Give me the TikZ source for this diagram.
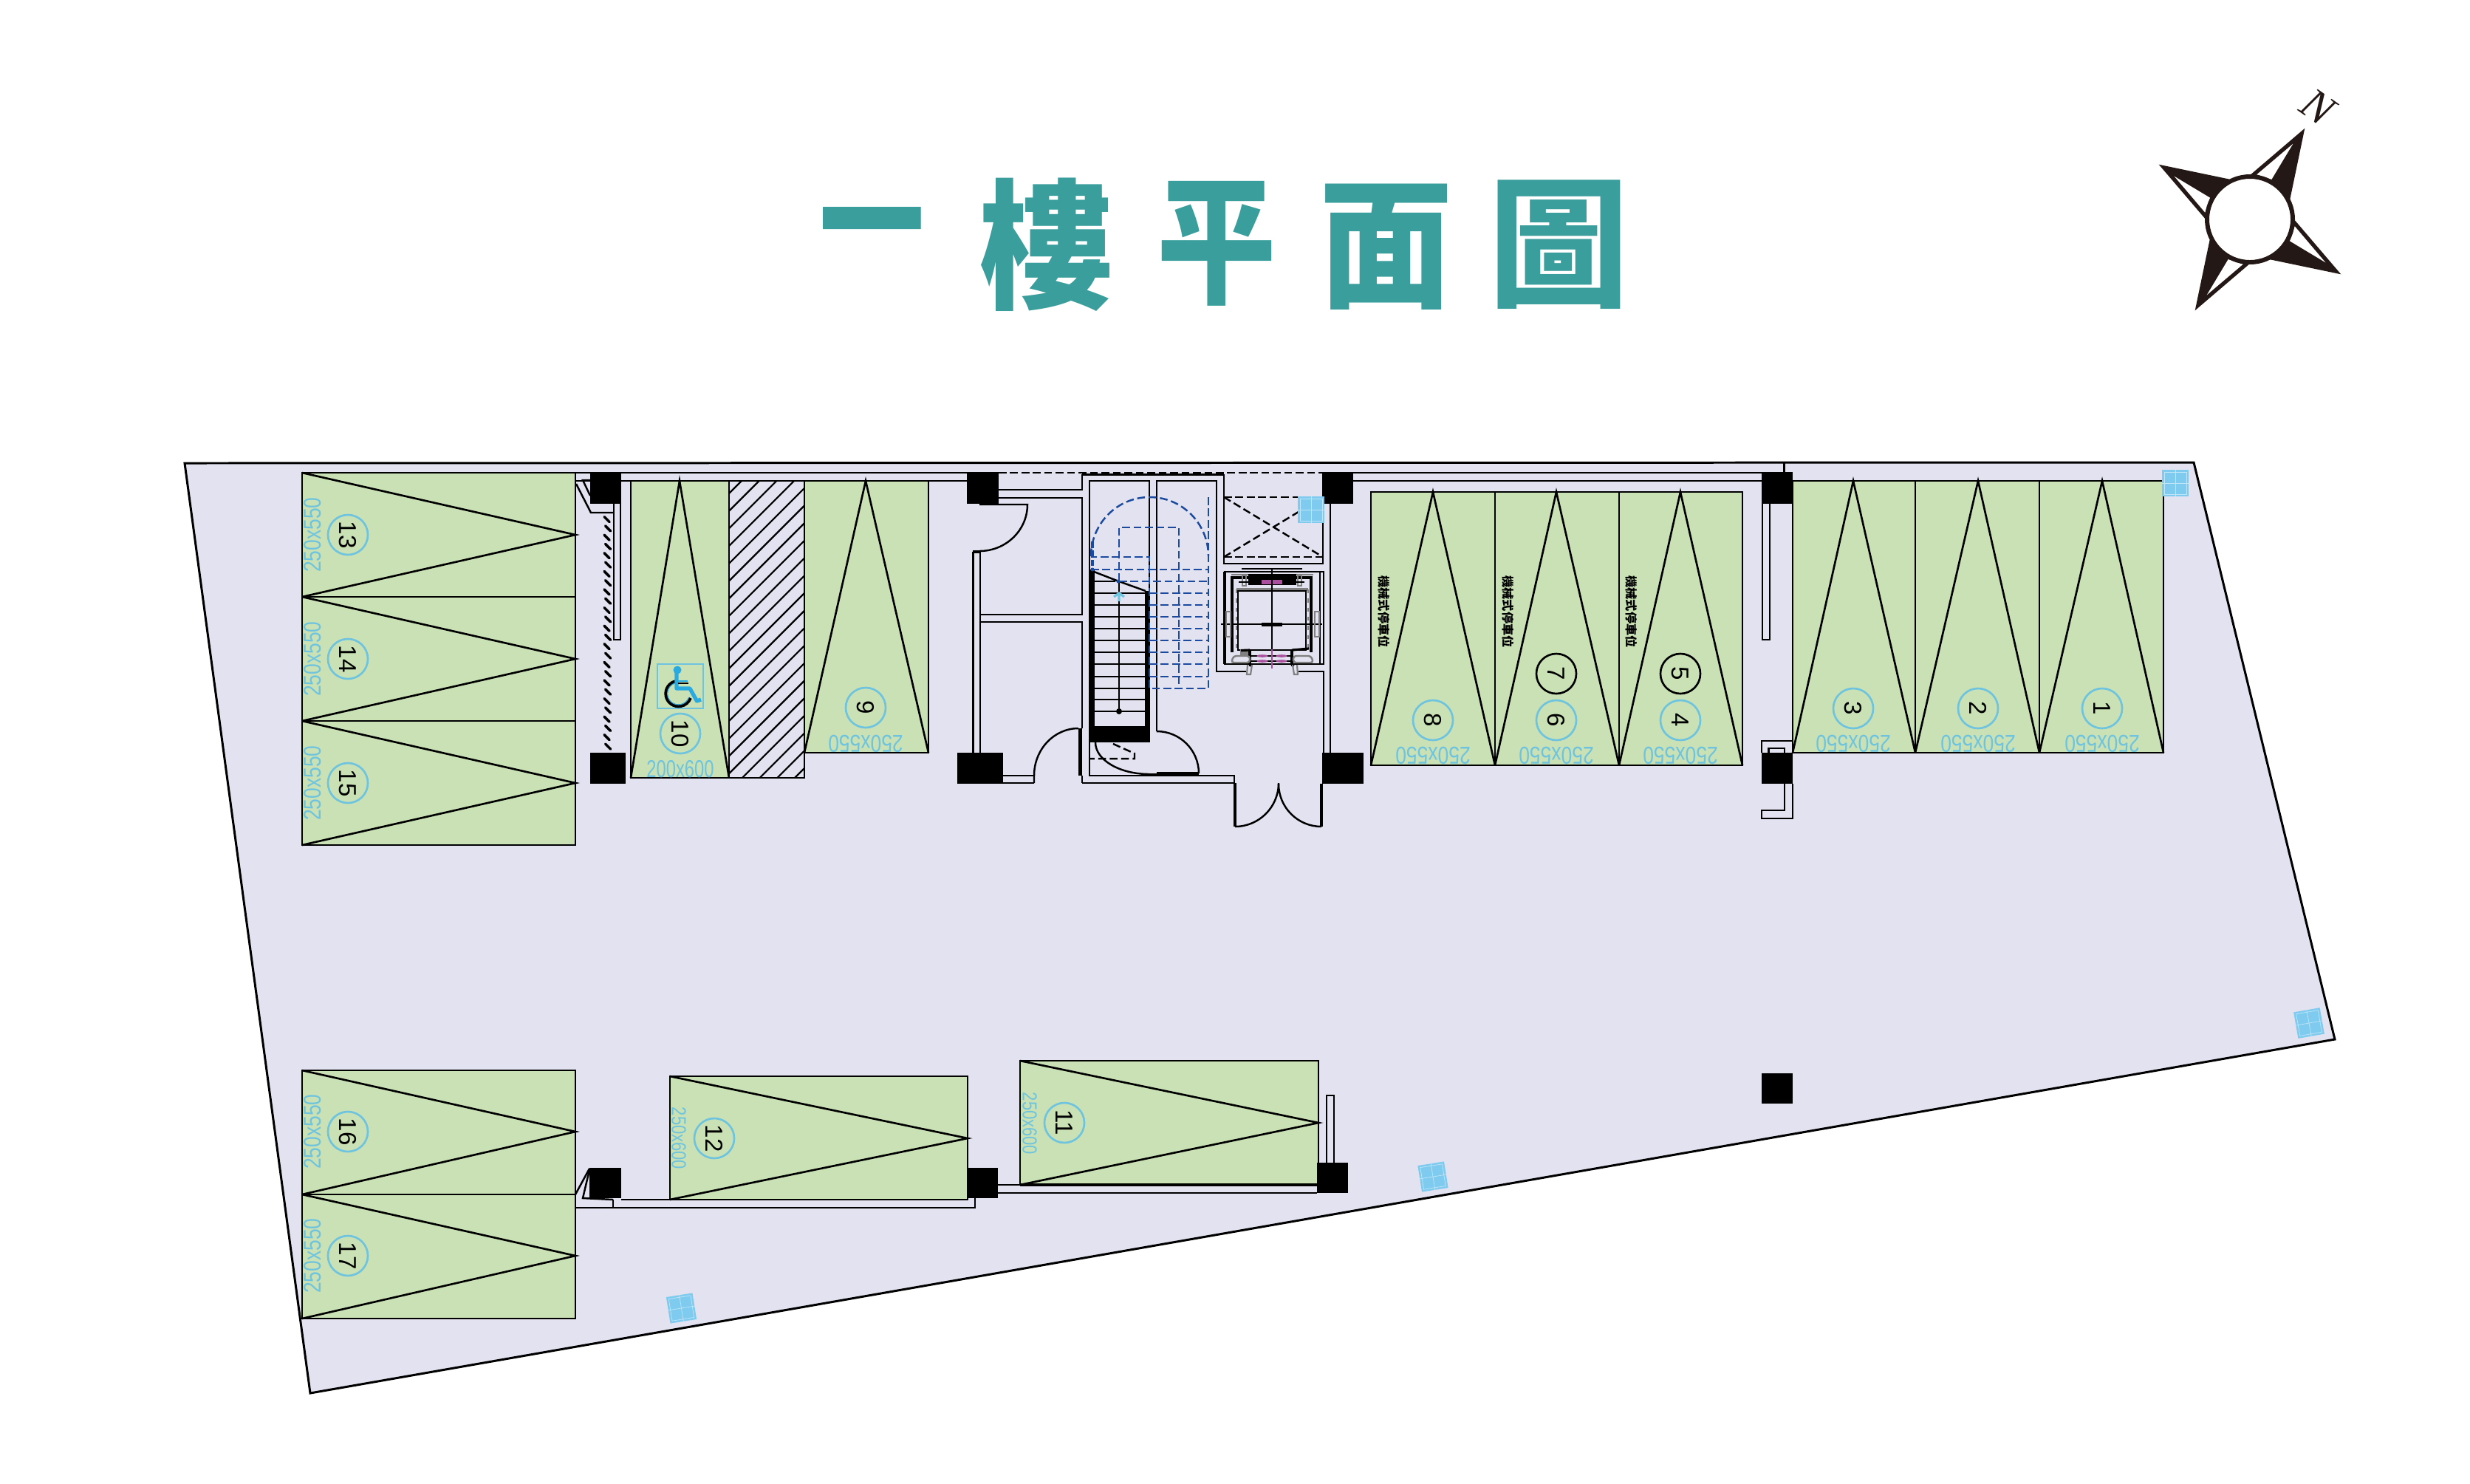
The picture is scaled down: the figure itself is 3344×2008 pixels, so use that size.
\documentclass[tikz,border=0pt]{standalone}
\usepackage{fontspec}
\setmainfont{Liberation Sans}
\newfontfamily\cjkfont{Noto Sans CJK TC}
\newfontfamily\serifit{Liberation Serif}
\definecolor{land}{HTML}{E2E2F0}
\definecolor{stall}{HTML}{C9E1B5}
\definecolor{cyanl}{HTML}{6EC4DF}
\definecolor{pinkl}{HTML}{A94F9E}
\definecolor{blued}{HTML}{1B4A9F}
\definecolor{panelb}{HTML}{7FCBEF}
\definecolor{teal}{HTML}{3A9E9C}
\definecolor{wheelb}{HTML}{29ABE2}
\definecolor{greyb}{HTML}{808080}
\definecolor{compass}{HTML}{231815}
\tikzset{
  wall/.style={draw=black,line width=.7pt,line join=miter},
  outline/.style={draw=black,line width=.85pt,fill=land,line join=miter},
  stallbox/.style={draw=black,line width=.75pt,fill=stall},
  vee/.style={draw=black,line width=.75pt},
  pillar/.style={fill=black,draw=none},
  dimtext/.style={text=cyanl,font=\fontsize{9.4}{10}\selectfont,inner sep=0pt},
  dimsmall/.style={text=cyanl,font=\fontsize{7.8}{9}\selectfont,inner sep=0pt},
  numring/.style={circle,draw=cyanl,line width=.75pt,minimum size=.54cm,inner sep=0pt,rotate=-90,font=\fontsize{9.4}{10}\selectfont},
  blackring/.style={numring,draw=black},
  bluedash/.style={draw=blued,line width=.7pt,dash pattern=on 3pt off 1.4pt},
  blackdash/.style={draw=black,line width=.7pt,dash pattern=on 3pt off 1.4pt},
  titlechar/.style={text=teal,inner sep=0pt,font=\fontsize{54}{54}\cjkfont\bfseries},
  cartext/.style={text=black,inner sep=0pt,rotate=-90,font=\fontsize{4.6}{5}\cjkfont\bfseries},
  greyline/.style={draw=greyb,line width=.62pt},
}
\newcommand{\panelat}[3]{%
  \begin{scope}[shift={(#1,#2)},rotate=#3]
    \fill[panelb] (-18,-18) rectangle (18,18);
    \draw[white,line width=.2pt,opacity=.5] (-15,-15) rectangle (15,15) (0,-18) -- (0,18) (-18,0) -- (18,0);
  \end{scope}}
\begin{document}
\begin{tikzpicture}[x=.01cm,y=-.01cm]
\useasboundingbox (0,0) rectangle (3344,2008);
\fill[white] (0,0) rectangle (3344,2008);

% title
\node[titlechar,xscale=.75] (t1) at (1181,325) {一};
\node[titlechar,xscale=.95] (t2) at (1417,331) {樓};
\node[titlechar,xscale=.85] (t3) at (1647,330) {平};
\node[titlechar,xscale=.95] (t4) at (1877,334) {面};
\node[titlechar] (t5) at (2110,331) {圖};

% compass
\foreach \a in {0,90,180,270}{
  \begin{scope}[shift={(3046,297)},rotate=\a]
    \fill[compass] (1,-60.7) -- (74.3,-123.3) -- (54.3,-27.3) -- cycle;
    \fill[white] (9.3,-60.7) -- (58.3,-102.3) -- (29.3,-54) -- cycle;
  \end{scope}}
\draw[compass,fill=white,line width=1.7pt] (3046,297) circle (58);
\node[text=compass,inner sep=0pt,rotate=-35,font=\fontsize{17}{17}\serifit\itshape] (north) at (3138,145) {N};

% site
\draw[outline] (250,627) -- (2970,626) -- (3161,1407) -- (420,1886) -- cycle;

% stalls: left block
\foreach \yA/\yB/\yM/\n in {640/808/724/13,808/976/892/14,976/1144/1060/15,1449/1617/1532/16,1617/1785/1700/17}{
  \draw[stallbox] (409,\yA) rectangle (779,\yB);
  \draw[vee] (409,\yA) -- (779,\yM) -- (409,\yB);
  \node[dimtext,rotate=90,xscale=.8] (d\n) at (423,\yM) {250x550};
  \node[numring] (n\n) at (471,\yM) {\n};
}
% 12
\draw[stallbox] (907,1457) rectangle (1310,1624);
\draw[vee] (907,1457) -- (1310,1541) -- (907,1624);
\node[dimsmall,rotate=-90,xscale=.8] (d12) at (919,1541) {250x600};
\node[numring] (n12) at (967,1541) {12};
% 11
\draw[stallbox] (1381,1436) rectangle (1785,1604);
\draw[vee] (1381,1436) -- (1785,1520) -- (1381,1604);
\node[dimsmall,rotate=-90,xscale=.8] (d11) at (1394,1521) {250x600};
\node[numring] (n11) at (1441,1520) {11};

% top walls
\draw[wall] (780,640) -- (2385,640);
\fill[land] (1353,639) rectangle (1789,641.5);
\draw[blackdash] (1352,640) -- (1790,640);
\draw[wall] (1465,642.5) -- (1657,642.5);
\draw[wall] (780,651) -- (1310,651) (1832,651) -- (2385,651);

% stalls 10, hatch, 9
\draw[stallbox] (854,651) rectangle (987,1053);
\draw[vee] (854,1053) -- (920,651) -- (987,1053);
\fill[land] (987,651) rectangle (1089,1053);
\begin{scope}
  \clip (987,651) rectangle (1089,1053);
  \foreach \k in {0,...,21}{
    \pgfmathsetmacro{\c}{1655+23.7*\k}
    \draw[black,line width=.62pt] ({\c-651},651) -- ({\c-1053},1053);
  }
\end{scope}
\draw[draw=black,line width=.75pt] (987,651) rectangle (1089,1053);
\draw[stallbox] (1089,651) rectangle (1257,1019);
\draw[vee] (1089,1019) -- (1172,651) -- (1257,1019);
\node[dimtext,rotate=180,xscale=.8] (d9) at (1172,1007) {250x550};
\node[numring] (n9) at (1172,958) {9};
\node[dimtext,xscale=.72] (d10) at (921,1041) {200x600};
\node[numring] (n10) at (921,993) {10};
% wheelchair
\draw[cyanl,line width=.75pt] (890,899) rectangle (952,959);
\draw[black,line width=1.3pt] (918.6,939) ++(-100:17) arc[start angle=-100,end angle=-340,radius=17];
\draw[wheelb,line width=.3pt] (918.6,939) ++(-100:15) arc[start angle=-100,end angle=-340,radius=15];
\fill[wheelb] (917,907) circle (5.5);
\draw[wheelb,line width=1.5pt,line join=round] (916,910) -- (916,932) -- (934,932) -- (943.5,949) -- (949,947);
\draw[black,line width=.35pt] (918,925) -- (932,925);
\draw[wheelb,line width=.7pt] (916,922) -- (931,922);

% stalls 8..4
\foreach \xA/\xB/\xM/\n/\tx in {1856/2024/1940/8/1874,2024/2192/2107/6/2042,2192/2359/2275/4/2209}{
  \draw[stallbox] (\xA,666) rectangle (\xB,1036);
  \draw[vee] (\xA,1036) -- (\xM,666) -- (\xB,1036);
  \node[dimtext,rotate=180,xscale=.8] (d\n) at (\xM,1023) {250x550};
  \node[numring] (n\n) at (\xM,975) {\n};
  \node[cartext] (c\n) at (\tx,828) {機械式停車位};
}
\node[blackring] (n7) at (2107,912) {7};
\node[blackring] (n5) at (2275,912) {5};

% stalls 3,2,1
\foreach \xA/\xB/\xM/\n in {2427/2593/2509/3,2593/2761/2678/2,2761/2929/2846/1}{
  \draw[stallbox] (\xA,651) rectangle (\xB,1019);
  \draw[vee] (\xA,1019) -- (\xM,651) -- (\xB,1019);
  \node[dimtext,rotate=180,xscale=.8] (d\n) at (\xM,1007) {250x550};
  \node[numring] (n\n) at (\xM,959) {\n};
}

% left wall details
\draw[wall] (780,655) -- (800,694) -- (830,694);
\draw[wall] (799,650) -- (789,650) -- (799,671);
\draw[wall] (831,682) -- (831,866) -- (840,866) -- (840,682);
\foreach \k in {0,...,25}{
  \draw[black,line width=1pt,line cap=round] ({818+mod(\k,2)*1.5},{703+12.3*\k-3.5}) -- ({825+mod(\k,2)*1.5},{703+12.3*\k+3.5});
}

% core walls
\draw[wall] (1352,663) -- (1465,663) -- (1465,642);
\draw[wall] (1352,674) -- (1465,674) -- (1465,832) -- (1327,832);
\draw[wall] (1327,842) -- (1465,842) -- (1465,986);
\draw[line width=1.3pt] (1462.5,986) -- (1462.5,1050);
\draw[wall] (1465,1050) -- (1465,1060);
\draw[wall] (1317.5,747) -- (1317.5,1019) (1327,746) -- (1327,1019);
\draw[line width=1pt] (1317,747) -- (1327,747);
% door 1
\draw[wall] (1326,683) -- (1391,683) arc[start angle=0,end angle=90,x radius=65,y radius=63];
% door 2
\draw[wall] (1400,1060) -- (1400,1050) arc[start angle=180,end angle=270,x radius=60,y radius=64];
\draw[wall] (1358,1050) -- (1400,1050) (1358,1060) -- (1400,1060);
% stair enclosure
\draw[wall] (1475,1005) -- (1475,651) -- (1556,651) -- (1556,983);
\draw[wall] (1566,990) -- (1566,651) -- (1647,651) -- (1647,909) -- (1687,909);
\draw[wall] (1758,909) -- (1792,909) -- (1792,1019);
\draw[wall] (1801,682) -- (1801,1019);
\draw[wall] (1657,642) -- (1657,763) -- (1791,763) -- (1791,642);
% door 3
\draw[wall] (1566,990) arc[start angle=270,end angle=360,radius=57];
\draw[line width=1.3pt] (1566,1047) -- (1623,1047);
\draw[wall] (1556,1048) -- (1566,1048);
\fill[black] (1475,983) rectangle (1557,1005);
\draw[wall] (1483,1005) arc[start angle=180,end angle=90,x radius=73,y radius=43];
\draw[blackdash] (1507,1007) -- (1536,1020) -- (1536,1027) -- (1475,1027);
\draw[wall] (1475,1005) -- (1475,1050) -- (1671,1050) -- (1671,1060) -- (1465,1060);
% entry doors
\draw[line width=1pt] (1672,1060) -- (1672,1119) (1789,1061) -- (1789,1119);
\draw[wall] (1672,1119) arc[start angle=90,end angle=0,radius=59];
\draw[wall] (1789,1119) arc[start angle=90,end angle=180,radius=58];

% stairs
\fill[black] (1476,772) rectangle (1482,983);
\fill[black] (1550,800) rectangle (1555,983);
\foreach \y in {803,819,835,851,867,883,899,916,932,947,963}{
  \draw[wall] (1482,\y) -- (1552,\y);
}
\draw[wall] (1482,787) -- (1510,787);
\draw[wall] (1476,772) -- (1512,786) -- (1551,800);
\draw[wall] (1515,786) -- (1515,963);
\fill[black] (1515,963) circle (4);
\draw[cyanl,line width=.9pt] (1515,814) -- (1515,803) (1508,808) -- (1515,803) -- (1522,808);
% blue dashed
\draw[bluedash] (1477,753) arc[start angle=180,end angle=360,x radius=79.5,y radius=80];
\draw[bluedash] (1636,673) -- (1636,932) -- (1556,932) -- (1556,754) -- (1477,754);
\draw[bluedash] (1515,787) -- (1515,714) -- (1596,714) -- (1596,932);
\draw[bluedash] (1477,771) -- (1636,771);
\draw[bluedash] (1515,787) -- (1636,787);
\foreach \y in {803,819,835,851,867,883,899,916}{
  \draw[bluedash] (1556,\y) -- (1636,\y);
}
\draw[blued,line width=1pt,dash pattern=on 2.5pt off 1pt] (1479,733) -- (1479,771);
\fill[blued] (1479,771) circle (2.5) (1514,787) circle (2.5);

% shaft
\draw[blackdash] (1657,673) -- (1791,673) (1657,754) -- (1791,754);
\draw[blackdash] (1657,673) -- (1791,754) (1657,754) -- (1791,673);

% elevator
\draw[draw=black,line width=.75pt] (1658,774) rectangle (1792,899);
\draw[black,line width=1pt] (1658,774) -- (1658,899);
\draw[black,line width=.4pt] (1787,774) -- (1787,899);
\draw[black,line width=.9pt] (1668,883) -- (1668,782) -- (1690,782) (1755,782) -- (1775,782) -- (1775,883);
\fill[black] (1690,777) rectangle (1755,792);
\fill[pinkl] (1708,785) rectangle (1736,791);
\draw[black,line width=.62pt] (1681,770) -- (1763,770);
\draw[greyline] (1667,778) -- (1690,778) (1755,778) -- (1778,778);
\draw[greyline] (1682,779) rectangle (1687,793) (1757,779) rectangle (1762,793);
\draw[black,line width=.4pt] (1677,788) -- (1690,788) (1755,788) -- (1766,788);
\draw[greyb,line width=.9pt] (1674,798) -- (1771,798);
\draw[greyb,line width=.5pt,dash pattern=on 1.5pt off 2pt] (1674,798) -- (1674,880) (1771,798) -- (1771,880);
\draw[black,line width=.5pt] (1676,800) rectangle (1768,880);
\draw[black,line width=.5pt] (1722,769) -- (1722,880) (1653,845) -- (1790,845);
\fill[black] (1708,842.5) rectangle (1736,847.5);
\draw[greyline] (1660,828) rectangle (1666,862) (1780,828) rectangle (1786,862);
\fill[greyb] (1679,879) rectangle (1692,887);
\draw[black,line width=.9pt] (1692,880) -- (1692,899) (1749,880) -- (1749,899);
\draw[black,line width=.9pt] (1692,880) -- (1680,880.5) (1749,880) -- (1772,878);
\draw[black,line width=.35pt] (1692,888) -- (1750,888) (1692,895) -- (1750,895);
\draw[greyb,line width=.7pt,rounded corners=1pt,fill=land] (1667,897) -- (1670,888) -- (1692,888) -- (1692,897) -- cycle;
\draw[greyb,line width=.7pt,rounded corners=1pt,fill=land] (1778,897) -- (1775,888) -- (1751,888) -- (1751,897) -- cycle;
\fill[pinkl] (1709,888) ellipse (7.5 and 1.8) (1735,888) ellipse (7.5 and 1.8) (1709,895) ellipse (7.5 and 1.8) (1735,895) ellipse (7.5 and 1.8);
\draw[pinkl,line width=.5pt] (1722,879) -- (1722,905);
\fill[black] (1693,900) circle (2.5) (1750,900) circle (2.5);
\draw[greyb,line width=.62pt] (1689,900) -- (1688,913) -- (1693,913) -- (1695,900) (1750,900) -- (1752,913) -- (1757,913) -- (1756,900);

% pillars
\fill[pillar] (799,640) rectangle (841,682);
\fill[pillar] (799,1019) rectangle (847,1061);
\fill[pillar] (1309,640) rectangle (1352,682);
\fill[pillar] (1296,1019) rectangle (1358,1061);
\fill[pillar] (1790,640) rectangle (1832,682);
\fill[pillar] (1790,1019) rectangle (1846,1061);
\fill[pillar] (2385,639) rectangle (2427,682);
\fill[pillar] (2385,1019) rectangle (2427,1061);
\fill[pillar] (798,1581) rectangle (841,1622);
\fill[pillar] (1310,1581) rectangle (1351,1622);
\fill[pillar] (1783,1574) rectangle (1825,1615);
\fill[pillar] (2385,1453) rectangle (2427,1494);

% right-side wall details
\draw[wall] (2386,682) -- (2386,866) -- (2396,866) -- (2396,682);
\draw[wall] (2415.5,626) -- (2415.5,639);
\draw[wall] (2385,1019) -- (2385,1003) -- (2427,1003) (2394.5,1019) -- (2394.5,1013) -- (2416,1013) -- (2416,1019);
\draw[wall] (2416,1061) -- (2416,1097) -- (2385,1097) -- (2385,1108) -- (2427,1108) -- (2427,1061);

% lower walls
\draw[wall] (779,1617) -- (798,1582);
\draw[wall] (798,1584) -- (789,1622) -- (830,1624);
\draw[wall] (841,1624) -- (907,1624);
\draw[wall] (830,1624) -- (830,1635);
\draw[wall] (779,1635) -- (1320,1635) -- (1320,1622);
\draw[wall] (779,1617) -- (779,1635);
\draw[wall] (1351,1604) -- (1381,1604) (1351,1615) -- (1783,1615);
\draw[line width=.9pt] (1381,1604) -- (1783,1604);
\draw[wall] (1796,1574) -- (1796,1483) -- (1806,1483) -- (1806,1574);

% panels
\panelat{2945}{654}{0}
\panelat{1775}{690}{0}
\panelat{3126}{1385}{10}
\panelat{1940}{1593}{9}
\panelat{922.5}{1771}{9}
\end{tikzpicture}
\end{document}
